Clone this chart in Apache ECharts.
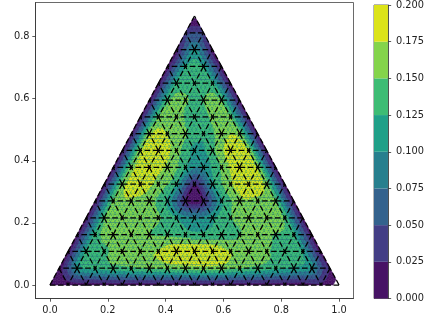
<!DOCTYPE html>
<html><head><meta charset="utf-8">
<style>html,body{margin:0;padding:0;background:#fff}#c{width:427px;height:323px}</style>
<script src="https://cdn.jsdelivr.net/npm/echarts@6/dist/echarts.min.js"></script>
</head><body><div id="c"></div>
<script>
// node values per mesh row, bottom row first
const row0=[0,.01,.01,.01,.01,.01,.01,.01,.01,.01,.01,.01,.01,.01,.01,0.02,-0.01];
const row1=[.01,.11,.13,.14,.145,.15,.155,.16,.165,.16,.15,.142,.13,.12,.105,.02];
const row2=[.01,.13,.145,.158,.168,.176,.196,.2,.198,.172,.162,.152,.138,.12,.01];
const row3=[.01,.135,.158,.158,.15,.145,.135,.13,.135,.148,.158,.148,.13,.01];
const row4=[.01,.145,.168,.165,.152,.125,.1,.12,.148,.165,.162,.145,.01];
const row5=[.01,.155,.172,.162,.12,.022,.022,.12,.168,.168,.15,.01];
const row6=[.01,.162,.185,.165,.128,.022,.118,.17,.195,.162,.01];
const row7=[.01,.162,.19,.168,.128,.105,.152,.192,.168,.01];
const row8=[.01,.168,.195,.162,.115,.142,.19,.172,.01];
const row9=[.01,.168,.172,.154,.128,.162,.162,.01];
const row10=[.01,.152,.162,.128,.157,.152,.01];
const row11=[.01,.142,.153,.15,.147,.01];
const row12=[.01,.132,.132,.132,.01];
const row13=[.01,.122,.122,.01];
const row14=[.01,.105,.01];
const row15=[.04,.04];
const row16=[-.0065];
const rows=[row0,row1,row2,row3,row4,row5,row6,row7,row8,row9,row10,row11,row12,row13,row14,row15,row16];
const levels=[0,.025,.05,.075,.1,.125,.15,.175,.2];
const bandColors=['#471365','#433E85','#34628D','#277F8E','#1FA088','#3DBC74','#84D44B','#DCE319'];
const xTicks=[0,.2,.4,.6,.8,1];
const yTicks=[0,.2,.4,.6,.8];
// nodes where the dashes of the mesh lines start, as [row, column]
const dashStarts=[[1,1],[1,3],[1,5],[1,6],[1,7],[1,8],[1,9],[1,11],[1,13],[1,14],[2,1],[2,3],[2,6],[2,7],
[3,2],[3,4],[3,8],[3,11],[4,1],[4,7],[4,9],[5,2],[5,3],[5,4],[5,5],[5,6],[5,8],[5,10],[6,1],[6,6],[6,9],
[7,2],[7,3],[7,7],[7,8],[8,1],[8,2],[8,5],[8,6],[9,1],[9,3],[9,5],[9,6],[10,1],[10,3],[11,1],[11,2],[11,3],[11,4],[12,1],[13,2],[14,1]];

const N=rows.length-1;
const isStart=new Set(dashStarts.map(d=>d[0]+'_'+d[1]));
const edges=[];
function addEdge(a,b){
  const sa=isStart.has(a.join('_')),sb=isStart.has(b.join('_'));
  if(sa&&!sb)edges.push([a,b]);
  else if(sb&&!sa)edges.push([b,a]);
  else if((a[0]+a[1])%2===0)edges.push([a,b]);
  else edges.push([b,a]);
}
for(let r=0;r<N;r++)for(let c=0;c<N-r;c++){
  addEdge([r,c],[r,c+1]);addEdge([r,c],[r+1,c]);addEdge([r,c+1],[r+1,c]);
}
// contour surface: smooth the read node values the way a triangular refiner does
function refine(g){
  const n=g.length-1,m=2*n,out=[];
  const get=(r,c)=>(r>=0&&c>=0&&r<=n&&c<=n-r)?g[r][c]:undefined;
  const v=(p)=>{const x=get(p[0],p[1]);return x===undefined?0:x;};
  const add=(a,b,s)=>[a[0]+b[0]-s[0],a[1]+b[1]-s[1]];
  function mid(a,b,c,d){
    const inC=get(c[0],c[1])!==undefined,inD=get(d[0],d[1])!==undefined;
    if(!inC||!inD)return (v(a)+v(b))/2;
    return (v(a)+v(b))/2+(v(c)+v(d))/8-(v(add(a,c,b))+v(add(b,c,a))+v(add(a,d,b))+v(add(b,d,a)))/16;
  }
  for(let r=0;r<=m;r++){const line=[];for(let c=0;c<=m-r;c++){
    const R=r>>1,C=c>>1,ro=r&1,co=c&1;
    if(!ro&&!co)line.push(g[R][C]);
    else if(!ro&&co)line.push(mid([R,C],[R,C+1],[R+1,C],[R-1,C+1]));
    else if(ro&&!co)line.push(mid([R,C],[R+1,C],[R,C+1],[R+1,C-1]));
    else line.push(mid([R,C+1],[R+1,C],[R,C],[R+1,C+1]));
  }out.push(line);}
  return out;
}
const fine=refine(refine(rows));
const M=fine.length-1;
const at=(r,c,n)=>[(c+r/2)/n,r*Math.sqrt(3)/2/n];
const tris=[];
for(let r=0;r<M;r++)for(let c=0;c<M-r;c++){
  tris.push([[r,c],[r,c+1],[r+1,c]]);
  if(c<M-r-1)tris.push([[r,c+1],[r+1,c+1],[r+1,c]]);
}
function clipAbove(poly,lo){
  const out=[];
  for(let i=0;i<poly.length;i++){
    const a=poly[i],b=poly[(i+1)%poly.length];
    const ai=a[2]>=lo,bi=b[2]>=lo;
    if(ai)out.push(a);
    if(ai!==bi){const t=(lo-a[2])/(b[2]-a[2]);out.push([a[0]+t*(b[0]-a[0]),a[1]+t*(b[1]-a[1]),lo]);}
  }
  return out;
}
function renderTri(params,api){
  const t=tris[api.value(0)];
  const poly=t.map(n=>{const p=at(n[0],n[1],M);return [p[0],p[1],fine[n[0]][n[1]]];});
  const children=[];
  bandColors.forEach((col,i)=>{
    const cl=clipAbove(poly,levels[i]);
    if(cl.length>=3)children.push({type:'polygon',shape:{points:cl.map(p=>api.coord([p[0],p[1]]))},
      style:{fill:col,stroke:col,lineWidth:0.5}});
  });
  return {type:'group',children};
}
function renderEdge(params,api){
  const e=edges[api.value(0)];
  const a=api.coord(at(e[0][0],e[0][1],N)),b=api.coord(at(e[1][0],e[1][1],N));
  return {type:'line',shape:{x1:a[0],y1:a[1],x2:b[0],y2:b[1]},
    style:{stroke:'#000',lineWidth:1.25,lineDash:[5.6,2.5],fill:null}};
}
function renderBar(params,api){
  const i=api.value(0);
  const p=api.coord([0,levels[i+1]]),q=api.coord([1,levels[i]]);
  return {type:'rect',shape:{x:p[0],y:p[1],width:q[0]-p[0],height:q[1]-p[1]},style:{fill:bandColors[i]}};
}
const labelStyle={color:'#222',fontFamily:'DejaVu Sans',fontSize:9.8};
const lineStyle={lineStyle:{color:'#333',width:0.8}};
const chart=echarts.init(document.getElementById('c'),null,{renderer:'canvas'});
chart.setOption({
  animation:false,
  backgroundColor:'#fff',
  grid:[
    {left:35.5,top:2.5,width:318,height:296,show:true,borderColor:'#444',borderWidth:0.8,backgroundColor:'transparent'},
    {left:374,top:2.5,width:14.5,height:296,show:true,borderColor:'#444',borderWidth:0.8,backgroundColor:'transparent'}
  ],
  xAxis:[
    {type:'value',gridIndex:0,min:-.05,max:1.05,splitLine:{show:false},axisLine:{onZero:false,...lineStyle},
     axisTick:{length:3.2,customValues:xTicks,lineStyle:{color:'#333',width:0.8}},
     axisLabel:{...labelStyle,margin:7,customValues:xTicks,formatter:v=>v.toFixed(1)}},
    {type:'value',gridIndex:1,min:0,max:1,show:false}
  ],
  yAxis:[
    {type:'value',gridIndex:0,min:-.0433,max:.9093,splitLine:{show:false},axisLine:{onZero:false,...lineStyle},
     axisTick:{length:3.2,customValues:yTicks,lineStyle:{color:'#333',width:0.8}},
     axisLabel:{...labelStyle,margin:6,customValues:yTicks,formatter:v=>v.toFixed(1)}},
    {type:'value',gridIndex:1,position:'right',min:0,max:.2,interval:.025,splitLine:{show:false},
     axisLine:{show:true,onZero:false,...lineStyle},
     axisTick:{show:true,length:3.2,lineStyle:{color:'#333',width:0.8}},
     axisLabel:{...labelStyle,margin:8,formatter:v=>v.toFixed(3)}}
  ],
  series:[
    {type:'custom',xAxisIndex:0,yAxisIndex:0,coordinateSystem:'cartesian2d',silent:true,clip:false,z:2,
     data:tris.map((t,i)=>[i]),encode:{x:-1,y:-1},renderItem:renderTri,progressive:0},
    {type:'custom',xAxisIndex:0,yAxisIndex:0,coordinateSystem:'cartesian2d',silent:true,clip:false,z:3,
     data:edges.map((t,i)=>[i]),encode:{x:-1,y:-1},renderItem:renderEdge,progressive:0},
    {type:'custom',xAxisIndex:1,yAxisIndex:1,coordinateSystem:'cartesian2d',silent:true,z:2,
     data:bandColors.map((t,i)=>[i]),encode:{x:-1,y:-1},renderItem:renderBar}
  ]
});
</script></body></html>
